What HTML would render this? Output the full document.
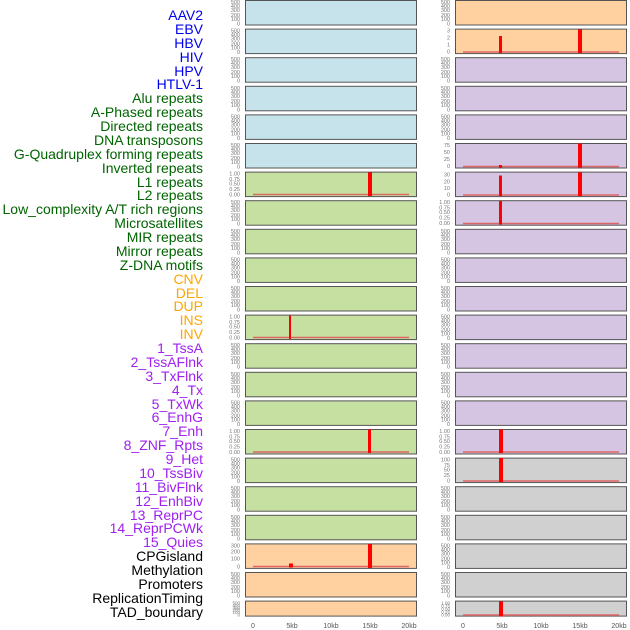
<!DOCTYPE html>
<html><head><meta charset="utf-8"><style>
body{margin:0;background:#fff}
svg{display:block;font-family:"Liberation Sans",sans-serif}
.t{font-size:5.5px;fill:#777;text-anchor:end}
.l{font-size:14px;text-anchor:end}
.ax{font-size:7px;fill:#555;text-anchor:middle}
.p{stroke:#555;stroke-width:1}
.b{fill:#ff0000}
.bl{stroke:#d66;stroke-width:1.5}
</style></head><body>
<svg width="630" height="630" viewBox="0 0 630 630">
<!-- labels -->
<g class="l">
<g fill="#0000ee">
<text x="203" y="20">AAV2</text><text x="203" y="34">EBV</text><text x="203" y="48">HBV</text><text x="203" y="62">HIV</text><text x="203" y="76">HPV</text><text x="203" y="89">HTLV-1</text></g>
<g fill="#006400">
<text x="203" y="103">Alu repeats</text><text x="203" y="117">A-Phased repeats</text><text x="203" y="131">Directed repeats</text><text x="203" y="145">DNA transposons</text><text x="203" y="159">G-Quadruplex forming repeats</text><text x="203" y="173">Inverted repeats</text><text x="203" y="187">L1 repeats</text><text x="203" y="200">L2 repeats</text><text x="203" y="214">Low_complexity A/T rich regions</text><text x="203" y="228">Microsatellites</text><text x="203" y="242">MIR repeats</text><text x="203" y="256">Mirror repeats</text><text x="203" y="270">Z-DNA motifs</text></g>
<g fill="#ffa500">
<text x="203" y="284">CNV</text><text x="203" y="298">DEL</text><text x="203" y="311">DUP</text><text x="203" y="325">INS</text><text x="203" y="339">INV</text></g>
<g fill="#a020f0">
<text x="203" y="353">1_TssA</text><text x="203" y="367">2_TssAFlnk</text><text x="203" y="381">3_TxFlnk</text><text x="203" y="395">4_Tx</text><text x="203" y="409">5_TxWk</text><text x="203" y="422">6_EnhG</text><text x="203" y="436">7_Enh</text><text x="203" y="450">8_ZNF_Rpts</text><text x="203" y="464">9_Het</text><text x="203" y="478">10_TssBiv</text><text x="203" y="492">11_BivFlnk</text><text x="203" y="506">12_EnhBiv</text><text x="203" y="520">13_ReprPC</text><text x="203" y="533">14_ReprPCWk</text><text x="203" y="547">15_Quies</text></g>
<g fill="#000">
<text x="203" y="561">CPGisland</text><text x="203" y="575">Methylation</text><text x="203" y="589">Promoters</text><text x="203" y="603">ReplicationTiming</text><text x="203" y="617">TAD_boundary</text></g>
</g>

<!-- panels left -->
<g class="p">
<rect x="245.5" y="0.5" width="171" height="24.5" fill="#c6e3ec"/>
<rect x="245.5" y="29.1" width="171" height="24.5" fill="#c6e3ec"/>
<rect x="245.5" y="57.7" width="171" height="24.5" fill="#c6e3ec"/>
<rect x="245.5" y="86.3" width="171" height="24.5" fill="#c6e3ec"/>
<rect x="245.5" y="114.9" width="171" height="24.5" fill="#c6e3ec"/>
<rect x="245.5" y="143.5" width="171" height="24.5" fill="#c6e3ec"/>
<rect x="245.5" y="172.1" width="171" height="24.5" fill="#c5e0a0"/>
<rect x="245.5" y="200.7" width="171" height="24.5" fill="#c5e0a0"/>
<rect x="245.5" y="229.3" width="171" height="24.5" fill="#c5e0a0"/>
<rect x="245.5" y="257.9" width="171" height="24.5" fill="#c5e0a0"/>
<rect x="245.5" y="286.5" width="171" height="24.5" fill="#c5e0a0"/>
<rect x="245.5" y="315.1" width="171" height="24.5" fill="#c5e0a0"/>
<rect x="245.5" y="343.7" width="171" height="24.5" fill="#c5e0a0"/>
<rect x="245.5" y="372.3" width="171" height="24.5" fill="#c5e0a0"/>
<rect x="245.5" y="400.9" width="171" height="24.5" fill="#c5e0a0"/>
<rect x="245.5" y="429.5" width="171" height="24.5" fill="#c5e0a0"/>
<rect x="245.5" y="458.1" width="171" height="24.5" fill="#c5e0a0"/>
<rect x="245.5" y="486.7" width="171" height="24.5" fill="#c5e0a0"/>
<rect x="245.5" y="515.3" width="171" height="24.5" fill="#c5e0a0"/>
<rect x="245.5" y="543.9" width="171" height="24.5" fill="#ffd0a0"/>
<rect x="245.5" y="572.5" width="171" height="24.5" fill="#ffd0a0"/>
<rect x="245.5" y="601.1" width="171" height="15" fill="#ffd0a0"/>
<!-- right -->
<rect x="455.5" y="0.5" width="171" height="24.5" fill="#ffd0a0"/>
<rect x="455.5" y="29.1" width="171" height="24.5" fill="#ffd0a0"/>
<rect x="455.5" y="57.7" width="171" height="24.5" fill="#d5c5e3"/>
<rect x="455.5" y="86.3" width="171" height="24.5" fill="#d5c5e3"/>
<rect x="455.5" y="114.9" width="171" height="24.5" fill="#d5c5e3"/>
<rect x="455.5" y="143.5" width="171" height="24.5" fill="#d5c5e3"/>
<rect x="455.5" y="172.1" width="171" height="24.5" fill="#d5c5e3"/>
<rect x="455.5" y="200.7" width="171" height="24.5" fill="#d5c5e3"/>
<rect x="455.5" y="229.3" width="171" height="24.5" fill="#d5c5e3"/>
<rect x="455.5" y="257.9" width="171" height="24.5" fill="#d5c5e3"/>
<rect x="455.5" y="286.5" width="171" height="24.5" fill="#d5c5e3"/>
<rect x="455.5" y="315.1" width="171" height="24.5" fill="#d5c5e3"/>
<rect x="455.5" y="343.7" width="171" height="24.5" fill="#d5c5e3"/>
<rect x="455.5" y="372.3" width="171" height="24.5" fill="#d5c5e3"/>
<rect x="455.5" y="400.9" width="171" height="24.5" fill="#d5c5e3"/>
<rect x="455.5" y="429.5" width="171" height="24.5" fill="#d5c5e3"/>
<rect x="455.5" y="458.1" width="171" height="24.5" fill="#d0d0d0"/>
<rect x="455.5" y="486.7" width="171" height="24.5" fill="#d0d0d0"/>
<rect x="455.5" y="515.3" width="171" height="24.5" fill="#d0d0d0"/>
<rect x="455.5" y="543.9" width="171" height="24.5" fill="#d0d0d0"/>
<rect x="455.5" y="572.5" width="171" height="24.5" fill="#d0d0d0"/>
<rect x="455.5" y="601.1" width="171" height="15" fill="#d0d0d0"/>
</g>

<!-- baselines -->
<g class="bl">
<line x1="253" x2="409" y1="194.5" y2="194.5"/>
<line x1="253" x2="409" y1="337.5" y2="337.5"/>
<line x1="253" x2="409" y1="452" y2="452"/>
<line x1="253" x2="409" y1="566.5" y2="566.5"/>
<line x1="463" x2="619" y1="52" y2="52"/>
<line x1="463" x2="619" y1="166.5" y2="166.5"/>
<line x1="463" x2="619" y1="195" y2="195"/>
<line x1="463" x2="619" y1="223.5" y2="223.5"/>
<line x1="463" x2="619" y1="452" y2="452"/>
<line x1="463" x2="619" y1="481" y2="481"/>
<line x1="463" x2="619" y1="615" y2="615"/>
</g>
<!-- bars -->
<g class="b">
<rect x="368" y="172.5" width="4" height="23.5"/>
<rect x="289" y="315.5" width="2" height="23.5"/>
<rect x="368" y="429.5" width="3" height="23.5"/>
<rect x="289" y="563.5" width="4" height="4"/>
<rect x="368" y="544" width="4" height="24"/>
<rect x="499" y="36" width="3" height="17"/>
<rect x="578" y="29.5" width="4" height="23.5"/>
<rect x="499" y="165" width="3" height="2.5"/>
<rect x="578" y="143.5" width="4" height="24"/>
<rect x="499" y="175.5" width="3" height="20.5"/>
<rect x="578" y="172.5" width="4" height="23.5"/>
<rect x="499" y="201" width="3" height="23.5"/>
<rect x="499" y="429.5" width="4" height="23.5"/>
<rect x="499" y="458" width="4" height="24"/>
<rect x="499" y="601.5" width="4" height="15"/>
</g>

<!-- tick labels -->
<g class="t">
<!-- generic 0..500 left col -->
<g id="g"><text x="240" y="4">500</text><text x="240" y="8">400</text><text x="240" y="12">300</text><text x="240" y="17">200</text><text x="240" y="21">100</text><text x="240" y="25.5">0</text></g>
<g transform="translate(0,28.6)"><text x="240" y="4">500</text><text x="240" y="8">400</text><text x="240" y="12">300</text><text x="240" y="17">200</text><text x="240" y="21">100</text><text x="240" y="25.5">0</text></g>
<g transform="translate(0,57.2)"><text x="240" y="4">500</text><text x="240" y="8">400</text><text x="240" y="12">300</text><text x="240" y="17">200</text><text x="240" y="21">100</text><text x="240" y="25.5">0</text></g>
<g transform="translate(0,85.8)"><text x="240" y="4">500</text><text x="240" y="8">400</text><text x="240" y="12">300</text><text x="240" y="17">200</text><text x="240" y="21">100</text><text x="240" y="25.5">0</text></g>
<g transform="translate(0,114.4)"><text x="240" y="4">500</text><text x="240" y="8">400</text><text x="240" y="12">300</text><text x="240" y="17">200</text><text x="240" y="21">100</text><text x="240" y="25.5">0</text></g>
<g transform="translate(0,143)"><text x="240" y="4">500</text><text x="240" y="8">400</text><text x="240" y="12">300</text><text x="240" y="17">200</text><text x="240" y="21">100</text><text x="240" y="25.5">0</text></g>
<g transform="translate(0,171.6)"><text x="240" y="4">1.00</text><text x="240" y="9.5">0.75</text><text x="240" y="14">0.50</text><text x="240" y="19.5">0.25</text><text x="240" y="25">0.00</text></g>
<g transform="translate(0,200.2)"><text x="240" y="4">500</text><text x="240" y="8">400</text><text x="240" y="12">300</text><text x="240" y="17">200</text><text x="240" y="21">100</text><text x="240" y="25.5">0</text></g>
<g transform="translate(0,228.8)"><text x="240" y="4">500</text><text x="240" y="8">400</text><text x="240" y="12">300</text><text x="240" y="17">200</text><text x="240" y="21">100</text><text x="240" y="25.5">0</text></g>
<g transform="translate(0,257.4)"><text x="240" y="4">500</text><text x="240" y="8">400</text><text x="240" y="12">300</text><text x="240" y="17">200</text><text x="240" y="21">100</text><text x="240" y="25.5">0</text></g>
<g transform="translate(0,286)"><text x="240" y="4">500</text><text x="240" y="8">400</text><text x="240" y="12">300</text><text x="240" y="17">200</text><text x="240" y="21">100</text><text x="240" y="25.5">0</text></g>
<g transform="translate(0,314.6)"><text x="240" y="4">1.00</text><text x="240" y="9.5">0.75</text><text x="240" y="14">0.50</text><text x="240" y="19.5">0.25</text><text x="240" y="25">0.00</text></g>
<g transform="translate(0,343.2)"><text x="240" y="4">500</text><text x="240" y="8">400</text><text x="240" y="12">300</text><text x="240" y="17">200</text><text x="240" y="21">100</text><text x="240" y="25.5">0</text></g>
<g transform="translate(0,371.8)"><text x="240" y="4">500</text><text x="240" y="8">400</text><text x="240" y="12">300</text><text x="240" y="17">200</text><text x="240" y="21">100</text><text x="240" y="25.5">0</text></g>
<g transform="translate(0,400.4)"><text x="240" y="4">500</text><text x="240" y="8">400</text><text x="240" y="12">300</text><text x="240" y="17">200</text><text x="240" y="21">100</text><text x="240" y="25.5">0</text></g>
<g transform="translate(0,429)"><text x="240" y="4">1.00</text><text x="240" y="9.5">0.75</text><text x="240" y="14">0.50</text><text x="240" y="19.5">0.25</text><text x="240" y="25">0.00</text></g>
<g transform="translate(0,457.6)"><text x="240" y="4">500</text><text x="240" y="8">400</text><text x="240" y="12">300</text><text x="240" y="17">200</text><text x="240" y="21">100</text><text x="240" y="25.5">0</text></g>
<g transform="translate(0,486.2)"><text x="240" y="4">500</text><text x="240" y="8">400</text><text x="240" y="12">300</text><text x="240" y="17">200</text><text x="240" y="21">100</text><text x="240" y="25.5">0</text></g>
<g transform="translate(0,514.8)"><text x="240" y="4">500</text><text x="240" y="8">400</text><text x="240" y="12">300</text><text x="240" y="17">200</text><text x="240" y="21">100</text><text x="240" y="25.5">0</text></g>
<g transform="translate(0,543.4)"><text x="240" y="4">300</text><text x="240" y="10">200</text><text x="240" y="17">100</text><text x="240" y="25">0</text></g>
<g transform="translate(0,572)"><text x="240" y="4">500</text><text x="240" y="8">400</text><text x="240" y="12">300</text><text x="240" y="17">200</text><text x="240" y="21">100</text><text x="240" y="25.5">0</text></g>
<g transform="translate(0,600.6)" style="font-size:4.5px"><text x="240" y="4">500</text><text x="240" y="6.5">400</text><text x="240" y="9">300</text><text x="240" y="11">200</text><text x="240" y="13.5">100</text><text x="240" y="16">0</text></g>
<!-- right col -->
<g transform="translate(210,0)"><text x="240" y="4">500</text><text x="240" y="8">400</text><text x="240" y="12">300</text><text x="240" y="17">200</text><text x="240" y="21">100</text><text x="240" y="25.5">0</text></g>
<g transform="translate(210,28.6)"><text x="240" y="4">3</text><text x="240" y="11">2</text><text x="240" y="18">1</text><text x="240" y="25">0</text></g>
<g transform="translate(210,57.2)"><text x="240" y="4">500</text><text x="240" y="8">400</text><text x="240" y="12">300</text><text x="240" y="17">200</text><text x="240" y="21">100</text><text x="240" y="25.5">0</text></g>
<g transform="translate(210,85.8)"><text x="240" y="4">500</text><text x="240" y="8">400</text><text x="240" y="12">300</text><text x="240" y="17">200</text><text x="240" y="21">100</text><text x="240" y="25.5">0</text></g>
<g transform="translate(210,114.4)"><text x="240" y="4">500</text><text x="240" y="8">400</text><text x="240" y="12">300</text><text x="240" y="17">200</text><text x="240" y="21">100</text><text x="240" y="25.5">0</text></g>
<g transform="translate(210,143)"><text x="240" y="4">75</text><text x="240" y="11">50</text><text x="240" y="18">25</text><text x="240" y="25">0</text></g>
<g transform="translate(210,171.6)"><text x="240" y="5">30</text><text x="240" y="12">20</text><text x="240" y="18.5">10</text><text x="240" y="25">0</text></g>
<g transform="translate(210,200.2)"><text x="240" y="4">1.00</text><text x="240" y="9.5">0.75</text><text x="240" y="14">0.50</text><text x="240" y="19.5">0.25</text><text x="240" y="25">0.00</text></g>
<g transform="translate(210,228.8)"><text x="240" y="4">500</text><text x="240" y="8">400</text><text x="240" y="12">300</text><text x="240" y="17">200</text><text x="240" y="21">100</text><text x="240" y="25.5">0</text></g>
<g transform="translate(210,257.4)"><text x="240" y="4">500</text><text x="240" y="8">400</text><text x="240" y="12">300</text><text x="240" y="17">200</text><text x="240" y="21">100</text><text x="240" y="25.5">0</text></g>
<g transform="translate(210,286)"><text x="240" y="4">500</text><text x="240" y="8">400</text><text x="240" y="12">300</text><text x="240" y="17">200</text><text x="240" y="21">100</text><text x="240" y="25.5">0</text></g>
<g transform="translate(210,314.6)"><text x="240" y="4">500</text><text x="240" y="8">400</text><text x="240" y="12">300</text><text x="240" y="17">200</text><text x="240" y="21">100</text><text x="240" y="25.5">0</text></g>
<g transform="translate(210,343.2)"><text x="240" y="4">500</text><text x="240" y="8">400</text><text x="240" y="12">300</text><text x="240" y="17">200</text><text x="240" y="21">100</text><text x="240" y="25.5">0</text></g>
<g transform="translate(210,371.8)"><text x="240" y="4">500</text><text x="240" y="8">400</text><text x="240" y="12">300</text><text x="240" y="17">200</text><text x="240" y="21">100</text><text x="240" y="25.5">0</text></g>
<g transform="translate(210,400.4)"><text x="240" y="4">500</text><text x="240" y="8">400</text><text x="240" y="12">300</text><text x="240" y="17">200</text><text x="240" y="21">100</text><text x="240" y="25.5">0</text></g>
<g transform="translate(210,429)"><text x="240" y="4">1.00</text><text x="240" y="9.5">0.75</text><text x="240" y="14">0.50</text><text x="240" y="19.5">0.25</text><text x="240" y="25">0.00</text></g>
<g transform="translate(210,457.6)"><text x="240" y="4">100</text><text x="240" y="9.5">75</text><text x="240" y="14">50</text><text x="240" y="19.5">25</text><text x="240" y="25">0</text></g>
<g transform="translate(210,486.2)"><text x="240" y="4">500</text><text x="240" y="8">400</text><text x="240" y="12">300</text><text x="240" y="17">200</text><text x="240" y="21">100</text><text x="240" y="25.5">0</text></g>
<g transform="translate(210,514.8)"><text x="240" y="4">500</text><text x="240" y="8">400</text><text x="240" y="12">300</text><text x="240" y="17">200</text><text x="240" y="21">100</text><text x="240" y="25.5">0</text></g>
<g transform="translate(210,543.4)"><text x="240" y="4">500</text><text x="240" y="8">400</text><text x="240" y="12">300</text><text x="240" y="17">200</text><text x="240" y="21">100</text><text x="240" y="25.5">0</text></g>
<g transform="translate(210,572)"><text x="240" y="4">500</text><text x="240" y="8">400</text><text x="240" y="12">300</text><text x="240" y="17">200</text><text x="240" y="21">100</text><text x="240" y="25.5">0</text></g>
<g transform="translate(210,600.6)" style="font-size:4.5px"><text x="240" y="4">1.00</text><text x="240" y="7">0.75</text><text x="240" y="10">0.50</text><text x="240" y="13">0.25</text><text x="240" y="16">0.00</text></g>
</g>

<!-- x axis -->
<g class="ax">
<text x="253" y="628">0</text><text x="292" y="628">5kb</text><text x="331" y="628">10kb</text><text x="370" y="628">15kb</text><text x="409" y="628">20kb</text>
<text x="463" y="628">0</text><text x="502" y="628">5kb</text><text x="541" y="628">10kb</text><text x="580" y="628">15kb</text><text x="619" y="628">20kb</text>
</g>
</svg>
</body></html>
